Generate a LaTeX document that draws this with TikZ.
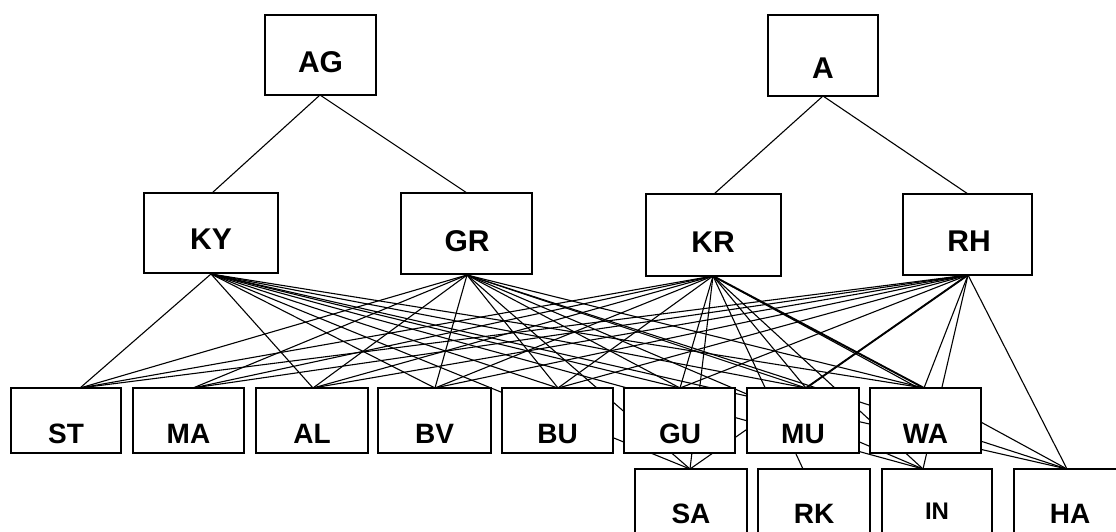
\documentclass[tikz,border=0pt]{standalone}
\usepackage{fontspec}
\setmainfont{Liberation Sans}
\begin{document}
\begin{tikzpicture}[x=1pt,y=-1pt,
  box/.style={draw, line width=1.2pt, fill=white, inner sep=0pt},
  lbl/.style={font=\fontsize{30}{30}\selectfont\bfseries, inner sep=0pt, anchor=base},
  slbl/.style={font=\fontsize{28}{28}\selectfont\bfseries, inner sep=0pt, anchor=base},
  edge/.style={line width=1.1pt},
  thick edge/.style={line width=1.9pt}]
\useasboundingbox (0,0) rectangle (1116,532);
\clip (0,0) rectangle (1116,532);
% connector end points
\coordinate (AGb) at (320,95);
\coordinate (Ab) at (823,96);
\coordinate (KYt) at (212,193);
\coordinate (GRt) at (467,193);
\coordinate (KRt) at (714,194);
\coordinate (RHt) at (968,194);
\coordinate (KYb) at (211,274);
\coordinate (GRb) at (467,275);
\coordinate (KRb) at (713,276);
\coordinate (RHb) at (968,275);
\coordinate (STt) at (80,388);
\coordinate (MAt) at (193,388);
\coordinate (ALt) at (313,388);
\coordinate (BVt) at (435,388);
\coordinate (BUt) at (558,388);
\coordinate (GUt) at (680,388);
\coordinate (MUt) at (806,388);
\coordinate (WAt) at (924,388);
\coordinate (SAt) at (690,469);
\coordinate (RKt) at (803,469);
\coordinate (INt) at (923,469);
\coordinate (HAt) at (1067,469);
% connectors
\draw[edge] (AGb) -- (KYt);
\draw[edge] (AGb) -- (GRt);
\draw[edge] (Ab) -- (KRt);
\draw[edge] (Ab) -- (RHt);
\foreach \t in {ST,AL,BV,BU,GU,MU,WA,SA,IN,HA} \draw[edge] (KYb) -- (\t t);
\foreach \t in {ST,MA,AL,BV,BU,GU,MU,WA,SA,IN,HA} \draw[edge] (GRb) -- (\t t);
\foreach \t in {ST,MA,AL,BV,BU,GU,MU,SA,RK,IN,HA} \draw[edge] (KRb) -- (\t t);
\draw[thick edge] (KRb) -- (WAt);
\foreach \t in {ST,MA,AL,BV,BU,GU,WA,SA,IN,HA} \draw[edge] (RHb) -- (\t t);
\draw[thick edge] (RHb) -- (MUt);
% boxes
\node[box, minimum width=111pt, minimum height=80pt] (AG) at (320.5,55) {};
\node[box, minimum width=110pt, minimum height=81pt] (A) at (823,55.5) {};
\node[box, minimum width=134pt, minimum height=80pt] (KY) at (211,233) {};
\node[box, minimum width=131pt, minimum height=81pt] (GR) at (466.5,233.5) {};
\node[box, minimum width=135pt, minimum height=82pt] (KR) at (713.5,235) {};
\node[box, minimum width=129pt, minimum height=81pt] (RH) at (967.5,234.5) {};
\node[box, minimum width=110pt, minimum height=65pt] (ST) at (66,420.5) {};
\node[box, minimum width=111pt, minimum height=65pt] (MA) at (188.5,420.5) {};
\node[box, minimum width=112pt, minimum height=65pt] (AL) at (312,420.5) {};
\node[box, minimum width=113pt, minimum height=65pt] (BV) at (434.5,420.5) {};
\node[box, minimum width=111pt, minimum height=65pt] (BU) at (557.5,420.5) {};
\node[box, minimum width=111pt, minimum height=65pt] (GU) at (679.5,420.5) {};
\node[box, minimum width=112pt, minimum height=65pt] (MU) at (803,420.5) {};
\node[box, minimum width=111pt, minimum height=65pt] (WA) at (925.5,420.5) {};
\node[box, minimum width=112pt, minimum height=76pt] (SA) at (691,507) {};
\node[box, minimum width=112pt, minimum height=76pt] (RK) at (814,507) {};
\node[box, minimum width=110pt, minimum height=76pt] (IN) at (937,507) {};
\node[box, minimum width=112pt, minimum height=76pt] (HA) at (1070,507) {};
% labels
\node[lbl] (AGl) at (320.5,73) {AG};
\node[lbl] (Al) at (823,79) {A};
\node[lbl] (KYl) at (211,249) {KY};
\node[lbl] (GRl) at (467,251) {GR};
\node[lbl] (KRl) at (713,252) {KR};
\node[lbl] (RHl) at (969,251) {RH};
\node[slbl] (STl) at (66,443) {ST};
\node[slbl] (MAl) at (188.5,443) {MA};
\node[slbl] (ALl) at (312,443) {AL};
\node[slbl] (BVl) at (434.5,443) {BV};
\node[slbl] (BUl) at (557.5,443) {BU};
\node[slbl] (GUl) at (680,443) {GU};
\node[slbl] (MUl) at (803,443) {MU};
\node[slbl] (WAl) at (925.5,443) {WA};
\node[slbl] (SAl) at (691,523) {SA};
\node[slbl] (RKl) at (814,523) {RK};
\node[slbl, font=\fontsize{24}{24}\selectfont\bfseries] (INl) at (937,519) {IN};
\node[slbl] (HAl) at (1070,523) {HA};
\end{tikzpicture}
\end{document}
